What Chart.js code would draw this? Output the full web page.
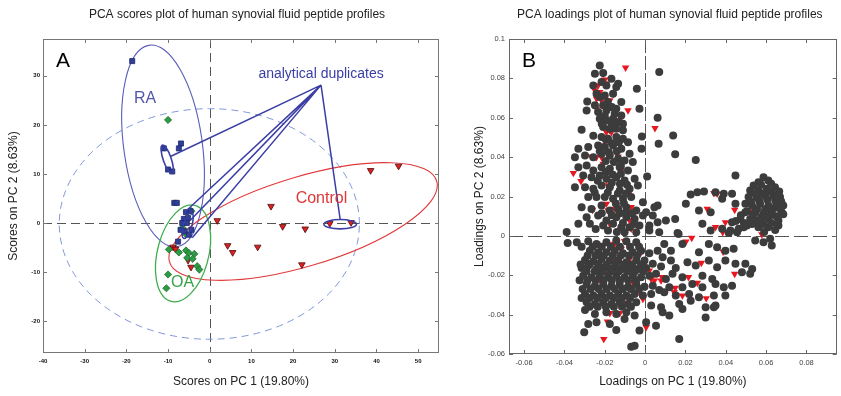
<!DOCTYPE html>
<html><head><meta charset="utf-8">
<script src="https://cdn.jsdelivr.net/npm/chart.js@4.4.1/dist/chart.umd.min.js"></script>
<style>
html,body{margin:0;padding:0;background:#fff;width:841px;height:396px;overflow:hidden}
canvas{position:absolute;top:0}
#a{left:0}
#b{left:441px}
</style></head><body>
<canvas id="a" width="450" height="396"></canvas>
<canvas id="b" width="400" height="396"></canvas>
<script>
// ---------- Panel A : PCA scores ----------
const aXTicks = [-40,-30,-20,-10,0,10,20,30,40,50];
const aYTicks = [-20,-10,0,10,20,30];
const raX = [-18.6,-6.9,-7.4,-11.0,-10.0,-9.0,-8.5,-7.9,-5.7,-4.6,-6.2,-5.2,-6.6,-5.5,-7.0,-6.0,-5.0,-7.6,-4.4];
const raY = [33.0,16.2,15.2,15.2,10.9,10.5,4.1,4.1,2.2,2.4,0.8,1.0,0.0,0.0,-1.4,-1.7,-2.4,-3.8,-1.4];
const oaX = [-10.0,-5.8,-4.4,-5.8,-9.8,-7.4,-5.7,-5.0,-3.7,-5.4,-4.1,-3.0,-2.5,-10.0,-10.4,-6.5];
const oaY = [21.0,0.3,2.4,-2.2,-5.4,-6.0,-5.6,-6.1,-6.3,-7.1,-7.3,-8.8,-9.5,-10.5,-13.3,-1.0];
const ctX = [1.8,14.7,17.5,22.9,28.8,33.9,38.6,45.3,4.3,5.5,11.5,22.1,-8.8,-8.2,-5.2,-4.5];
const ctY = [0.5,3.4,-0.7,-1.2,-0.1,0.1,10.7,11.6,-4.6,-6.0,-4.9,-8.5,-4.9,-5.3,-7.6,-9.0];
// group confidence ellipses: centre, semi-axes (score units), rotation (deg)
const ellRA      = {cx:-11.2, cy:15.7, rx:20.8, ry:9.4, angle:-80.3};
const ellOA      = {cx:-6.4,  cy:-6.2, rx:10.2, ry:6.1, angle:71.6};
const ellControl = {cx:22.4,  cy:0.3,  rx:33.1, ry:9.2, angle:14.0};
const ellAll     = {cx:-0.1,  cy:-0.2, rx:36.0, ry:23.5, angle:0};
const ellDupRA   = {cx:-10.2, cy:13.0, rx:3.1, ry:0.95, angle:-67.5};
const ellDupOA   = {cx:-5.3,  cy:-0.5, rx:2.8, ry:1.0, angle:70};
const ellDupCt   = {cx:31.3,  cy:-0.25,rx:3.9, ry:0.95, angle:0};
// "analytical duplicates" pointer lines: anchor and ends
const dupAnchor = [26.7, 28.1];
const dupEnds = [[-9.3,13.6],[-6.0,2.2],[-4.6,0.6],[-4.2,-3.0],[31.3,0.7]];
const aLabels = [
  {text:'RA', x:-15.5, y:25.3},
  {text:'analytical duplicates', x:26.7, y:30.4},
  {text:'Control', x:26.8, y:4.9},
  {text:'OA', x:-6.5, y:-12.1}
];

// ---------- Panel B : PCA loadings ----------
const bXTicks = [-0.06,-0.04,-0.02,0,0.02,0.04,0.06,0.08];
const bYTicks = [-0.06,-0.04,-0.02,0,0.02,0.04,0.06,0.08,0.1];
const loadOther = [
[-0.0225,0.0866],
[-0.0249,0.0824],[-0.0208,0.0827],[-0.0167,0.0798],[-0.0134,0.0773],
[-0.0257,0.0764],[-0.0216,0.0781],[-0.0192,0.0764],[-0.0143,0.0756],
[-0.0241,0.0722],[-0.02,0.0713],[-0.0159,0.0722],[-0.0118,0.068],
[-0.0287,0.0683],[-0.0249,0.0663],[-0.0208,0.0663],[-0.0175,0.0654],[-0.0143,0.0646],
[-0.029,0.0637],[-0.0233,0.0629],[-0.0192,0.0637],[-0.0151,0.062],[-0.0118,0.0612],
[-0.0225,0.0595],[-0.0192,0.0586],[-0.0159,0.0595],[-0.0134,0.0578],[-0.011,0.057],
[-0.0208,0.0553],[-0.0175,0.0544],[-0.0143,0.0544],[-0.011,0.0536],
[-0.0315,0.0539],
[-0.0257,0.0508],[-0.0216,0.0502],[-0.0184,0.0493],[-0.0143,0.0502],[-0.011,0.0493],[-0.0085,0.0476],
[-0.0331,0.0442],[-0.0282,0.0451],
[-0.0233,0.0459],[-0.02,0.0451],[-0.0159,0.0459],[-0.0118,0.0442],[-0.0077,0.0417],
[-0.0348,0.04],[-0.0298,0.0408],[-0.0257,0.04],[-0.0216,0.0417],[-0.0175,0.0408],[-0.0134,0.0392],[-0.0102,0.0383],[-0.0061,0.0375],
[-0.0331,0.0349],[-0.029,0.0358],[-0.0257,0.0332],[-0.0216,0.0349],[-0.0175,0.0341],[-0.0126,0.0349],[-0.0085,0.0332],
[-0.0307,0.0307],[-0.0266,0.0298],[-0.0225,0.0307],[-0.0192,0.029],[-0.0143,0.0298],[-0.0102,0.0281],[-0.0052,0.029],[0.001,0.0302],
[-0.0348,0.0247],[-0.0298,0.0247],[-0.0257,0.0239],[-0.0216,0.0256],[-0.0175,0.0247],[-0.0126,0.0231],[-0.0077,0.0239],[-0.0036,0.0256],
[-0.0282,0.0197],[-0.0241,0.0197],[-0.02,0.0197],[-0.0159,0.0188],[-0.011,0.0188],[-0.0069,0.0197],
[-0.0315,0.0146],[-0.0266,0.0137],[-0.0216,0.0154],[-0.0175,0.0129],[-0.0134,0.0137],[-0.0093,0.0146],[-0.0044,0.0129],[-0.0011,0.0171],[0.0005,0.012],[0.0046,0.0146],[0.0062,0.0154],
[-0.029,0.0095],[-0.0233,0.0103],[-0.0192,0.0078],[-0.0143,0.0095],[-0.0093,0.0095],[-0.0052,0.0086],[-0.0011,0.0103],[0.0038,0.0103],
[-0.0389,0.002],
[-0.0331,0.0061],[-0.0274,0.0061],[-0.0208,0.0053],[-0.0159,0.0061],[-0.0118,0.0044],[-0.0077,0.0044],[-0.0028,0.0053],[0.0021,0.0053],[0.0062,0.0069],[0.0103,0.0078],
[-0.0184,0.0027],[-0.0102,0.0019],[-0.0044,0.0019],[0.0021,0.0027],[0.007,0.0019],[0.0161,0.0014],
[-0.0225,0.0705],[-0.0185,0.068],[-0.0165,0.0655],[-0.02,0.061],[-0.017,0.058],[-0.0215,0.057],[-0.0155,0.0565],[-0.0195,0.049],[-0.0165,0.047],[-0.013,0.0475],
[-0.0225,0.043],[-0.018,0.0425],[-0.014,0.043],[-0.0195,0.038],[-0.0155,0.0375],[-0.012,0.0355],[-0.0195,0.0325],[-0.016,0.031],[-0.012,0.0315],[-0.0235,0.028],
[-0.0165,0.027],[-0.0125,0.0265],[-0.009,0.026],[-0.0135,0.0215],[-0.0095,0.0215],[-0.0185,0.022],[-0.025,0.022],[-0.0145,0.0165],[-0.0105,0.0165],[-0.0215,0.0115],
[-0.0125,0.0115],[-0.0095,0.012],[-0.0065,0.0115],[-0.0165,0.0105],[-0.011,0.0065],[-0.0055,0.006],[-0.0245,0.0035],[-0.014,0.002],
[-0.0041,0.0747],[0.007,0.0832],[-0.0028,0.0646],[0.0062,0.06],[0.0067,0.0468],[-0.0016,0.0505],[0.0139,0.051],[0.0149,0.0414],[0.0251,0.0386],[-0.0018,0.0442],
[-0.0339,-0.0032],[-0.0282,-0.0027],[-0.0241,-0.0041],[-0.0192,-0.0032],[-0.0143,-0.0024],[-0.0093,-0.0027],[-0.0044,-0.0032],[-0.0384,-0.0036],
[-0.0274,-0.0075],[-0.0233,-0.0083],[-0.0192,-0.0083],[-0.0151,-0.0075],[-0.011,-0.0088],[-0.0061,-0.0083],[-0.002,-0.0075],[0.0021,-0.0088],[0.0062,-0.0075],
[-0.0298,-0.0122],[-0.0257,-0.0129],[-0.0216,-0.0117],[-0.0175,-0.0125],[-0.0134,-0.0125],[-0.0093,-0.0134],[-0.0044,-0.0125],[-0.0003,-0.0125],[0.0038,-0.0142],[0.0087,-0.0108],[0.0128,-0.0125],
[-0.0315,-0.0163],[-0.0282,-0.0151],[-0.0241,-0.0168],[-0.02,-0.0159],[-0.0159,-0.0163],[-0.0118,-0.0168],[-0.0077,-0.0159],[-0.0036,-0.0168],[0.0005,-0.0163],[0.0079,-0.0156],[0.0152,-0.0163],[0.021,-0.0134],[0.0251,-0.0151],
[-0.0307,-0.0202],[-0.0266,-0.021],[-0.0225,-0.0202],[-0.0184,-0.0207],[-0.0143,-0.0202],[-0.0102,-0.021],[-0.0061,-0.0202],[-0.002,-0.021],[0.0021,-0.0202],[0.0054,-0.0193],[0.0103,-0.0219],[0.0136,-0.0193],[0.0185,-0.021],[0.0284,-0.0202],[0.0333,-0.0219],
[-0.029,-0.0244],[-0.0249,-0.0253],[-0.0208,-0.0244],[-0.0167,-0.0253],[-0.0126,-0.0244],[-0.0085,-0.0258],[-0.0044,-0.0244],[-0.0003,-0.0258],[0.0038,-0.0253],[0.007,-0.0275],[0.012,-0.0261],[0.0185,-0.0261],[0.0234,-0.0244],[0.0284,-0.0261],[0.0349,-0.0244],[0.039,-0.0261],[0.0431,-0.0253],
[-0.0298,-0.0295],[-0.0257,-0.0303],[-0.0216,-0.0295],[-0.0175,-0.0303],[-0.0134,-0.0295],[-0.0093,-0.0303],[-0.0052,-0.0295],[-0.0011,-0.0303],[0.003,-0.0295],[0.0095,-0.0286],[0.0152,-0.0303],[0.0218,-0.0295],[0.0267,-0.0312],[0.0341,-0.0303],[0.0398,-0.0303],
[-0.029,-0.0337],[-0.0249,-0.0346],[-0.0208,-0.0337],[-0.0167,-0.0346],[-0.0126,-0.0337],[-0.0085,-0.0346],[-0.0044,-0.0337],[0.003,-0.0354],[0.0079,-0.0363],[0.0169,-0.0346],[0.0226,-0.0329],[0.03,-0.0363],[0.0349,-0.0354],
[-0.0298,-0.0376],[-0.0249,-0.0397],[-0.0192,-0.0388],[-0.0143,-0.0397],[-0.0093,-0.0388],[-0.0052,-0.0405],[0.0087,-0.0388],[0.012,-0.0405],[0.0185,-0.0371],[0.03,-0.0414],[0.0341,-0.0363],
[-0.0282,-0.0447],[-0.0241,-0.0439],[-0.0302,-0.049],[-0.0143,-0.0478],[-0.0028,-0.0481],[0.0005,-0.0439],[0.0054,-0.0456],[0.0169,-0.0524],[-0.0069,-0.0563],[-0.0052,-0.0558],
[-0.0175,-0.0447],[-0.0102,-0.0422],
[-0.0315,-0.0055],[-0.026,-0.0055],[-0.0215,-0.0055],[-0.017,-0.0055],[-0.0125,-0.0055],[-0.0075,-0.0055],[-0.003,-0.0055],
[-0.0285,-0.01],[-0.0245,-0.01],[-0.0205,-0.01],[-0.016,-0.01],[-0.012,-0.01],[-0.008,-0.01],[-0.004,-0.01],
[-0.032,-0.0145],[-0.0275,-0.0145],[-0.023,-0.0145],[-0.019,-0.0145],[-0.0145,-0.0145],[-0.0105,-0.0145],[-0.0065,-0.0145],[-0.002,-0.0145],
[-0.029,-0.018],[-0.025,-0.018],[-0.021,-0.018],[-0.017,-0.018],[-0.013,-0.018],[-0.009,-0.018],[-0.005,-0.018],[-0.001,-0.018],
[-0.0325,-0.0225],[-0.0285,-0.0225],[-0.0245,-0.0225],[-0.0205,-0.0225],[-0.0165,-0.0225],[-0.0125,-0.0225],[-0.0085,-0.0225],[-0.0045,-0.0225],
[-0.031,-0.027],[-0.027,-0.027],[-0.023,-0.027],[-0.019,-0.027],[-0.015,-0.027],[-0.011,-0.027],[-0.007,-0.027],[-0.003,-0.027],
[-0.0315,-0.0315],[-0.0275,-0.0315],[-0.0235,-0.0315],[-0.0195,-0.0315],[-0.0155,-0.0315],[-0.0115,-0.0315],[-0.0075,-0.0315],
[-0.0275,-0.036],[-0.0235,-0.036],[-0.0195,-0.036],[-0.0155,-0.036],[-0.0115,-0.036],[-0.007,-0.036],
[0.0166,0.001],[0.0149,0.0086],[0.0202,0.0163],[0.0226,0.021],[0.0259,0.0222],[0.0292,0.0225],[0.0349,0.0222],[0.039,0.0214],[0.0431,0.0214],[0.0267,0.0129],[0.0325,0.012],
[0.0448,0.0307],[0.0382,0.0188],[0.0448,0.0163],[0.0497,0.0163],
[0.0284,0.0061],[0.0325,0.0027],[0.0382,0.0036],[0.0423,0.0027],[0.0464,0.0036],[0.0505,0.0053],[0.0546,0.0069],[0.0579,0.0095],
[0.0185,-0.0041],[0.0267,-0.0083],[0.0316,-0.0041],[0.0357,-0.0058],[0.0398,-0.0075],[0.0439,-0.0066],[0.0546,-0.0024],[0.0587,-0.0032],[0.062,-0.0015],[0.0628,-0.0049],
[0.0095,-0.0041],[0.0128,-0.0075],
[0.0316,-0.0125],[0.0357,-0.0159],[0.0398,-0.0125],[0.0448,-0.0142],[0.0497,-0.0142],[0.0531,-0.0168],[0.0521,-0.0193],[0.048,-0.0185],
[0.0587,0.0298],[0.0562,0.0273],[0.0611,0.0281],[0.0538,0.0256],
[0.0521,0.0231],[0.0562,0.0231],[0.0603,0.0239],[0.0644,0.0247],
[0.0513,0.0197],[0.0554,0.0197],[0.0595,0.0205],[0.0636,0.0205],[0.0669,0.0197],
[0.053,0.0154],[0.057,0.0163],[0.0611,0.0154],[0.0652,0.0163],[0.0685,0.0154],
[0.0497,0.012],[0.0546,0.012],[0.0587,0.0112],[0.0628,0.012],[0.0677,0.012],
[0.0472,0.0086],[0.0521,0.0086],[0.0562,0.0078],[0.0611,0.0086],[0.0661,0.0078],
[0.0431,0.0069],[0.0562,0.0044],[0.0611,0.0044],[0.0661,0.0053],
[0.0489,0.0044],[0.0415,0.0014],[0.0456,0.0019],
[0.0575,0.026],[0.0625,0.0265],[0.0545,0.0215],[0.0585,0.0215],[0.0625,0.0225],[0.0665,0.0225],[0.0525,0.0175],[0.0565,0.018],[0.0605,0.0185],[0.0645,0.018],
[0.0675,0.0175],[0.0555,0.0135],[0.0595,0.0135],[0.0635,0.014],[0.0665,0.014],[0.0535,0.0105],[0.0575,0.0095],[0.0615,0.01],[0.065,0.01],[0.0685,0.011],
[0.0585,0.006],[0.0625,0.0065],[0.0655,0.006],[0.059,0.002],[0.0645,0.003],[0.0505,0.0125],[0.0475,0.0105],[0.045,0.0075],[0.049,0.0065],[0.053,0.006]
];
const loadRed = [
[-0.0097,0.0854],[-0.0208,0.0824],[-0.02,0.0793],[-0.0192,0.0773],[-0.0233,0.0764],[-0.0249,0.0739],[-0.0225,0.073],[-0.0241,0.0697],[-0.0216,0.0688],[-0.0175,0.0688],
[-0.0159,0.0722],[-0.0241,0.0646],[-0.0233,0.0629],[-0.0085,0.0637],[-0.0151,0.0578],[-0.0118,0.0603],[-0.011,0.0553],[-0.0192,0.0527],[-0.0175,0.0536],[-0.0167,0.0527],
[0.0049,0.0547],[-0.02,0.0459],[-0.0216,0.04],[-0.0241,0.04],[-0.0208,0.0366],[-0.0266,0.0403],[-0.0134,0.0403],[-0.0126,0.0375],[-0.0118,0.0332],[-0.0356,0.0319],
[-0.0318,0.0278],[-0.0192,0.0286],[-0.0184,0.0256],[-0.0077,0.0222],[-0.0261,0.0132],[-0.0192,0.0163],[-0.0184,0.0129],[-0.0148,0.0137],[-0.0069,0.0146],[-0.0175,0.0061],
[-0.0077,0.0078],[-0.0069,0.0036],[-0.0238,-0.0041],[-0.0175,-0.0044],[-0.0151,-0.0041],[-0.0102,-0.0027],[-0.0159,-0.0075],[-0.0118,-0.0066],[-0.0028,-0.0075],[-0.002,-0.0083],
[-0.0244,-0.0142],[-0.0225,-0.0134],[-0.0151,-0.0125],[-0.0077,-0.0117],[-0.0028,-0.0163],[0.0021,-0.0176],[-0.0056,-0.0193],[-0.0225,-0.0219],[-0.0184,-0.0193],[-0.011,-0.0219],
[-0.0061,-0.0236],[0.003,-0.0219],[0.0046,-0.0227],[0.0084,-0.021],[0.0079,-0.0227],[-0.0261,-0.027],[-0.0118,-0.027],[-0.0028,-0.0278],[-0.002,-0.0303],[-0.0011,-0.032],
[-0.0118,-0.0337],[-0.0102,-0.0342],[0.0149,-0.0264],[0.0144,-0.0286],[0.0185,-0.0303],[0.0215,-0.021],[0.0259,-0.0239],[0.0279,-0.0137],[0.0303,-0.0317],[0.0308,0.0137],
[0.0341,0.0217],[0.0357,0.0214],[0.0202,-0.0029],[0.0231,-0.001],[0.0349,0.0044],[0.0385,0.0019],[0.0398,0.0069],[0.0387,-0.008],[0.0444,0.0132],[0.0444,-0.0193],
[0.0529,0.0124],[0.0579,0.0007],[0.0611,0.0222],[0.0647,0.0214],[0.0616,0.0188],[0.0611,0.0146],[0.066,0.0149],[0.0644,0.0205],[-0.0175,-0.0393],[-0.0126,-0.0393],
[-0.0187,-0.0436],[-0.0205,-0.0524],[0.0005,-0.0464],[-0.0274,-0.0134]
];

// ---------- helpers ----------
const FONT = "'Liberation Sans', Arial, Helvetica, sans-serif";
const zip = (xs, ys) => xs.map((x, i) => ({x, y: ys[i]}));
const pairs = arr => arr.map(p => ({x: p[0], y: p[1]}));

function drawFrame(chart, tickLen, color) {
  const {ctx, chartArea: ca, scales: {x, y}} = chart;
  ctx.save();
  ctx.strokeStyle = color; ctx.lineWidth = 1; ctx.setLineDash([]);
  ctx.strokeRect(Math.round(ca.left) + 0.5, Math.round(ca.top) + 0.5,
                 Math.round(ca.right - ca.left) - 1, Math.round(ca.bottom - ca.top) - 1);
  ctx.beginPath();
  x.ticks.forEach(t => {
    const p = Math.round(x.getPixelForValue(t.value)) + 0.5;
    ctx.moveTo(p, ca.bottom); ctx.lineTo(p, ca.bottom - tickLen);
    ctx.moveTo(p, ca.top); ctx.lineTo(p, ca.top + tickLen);
  });
  y.ticks.forEach(t => {
    const p = Math.round(y.getPixelForValue(t.value)) + 0.5;
    ctx.moveTo(ca.left, p); ctx.lineTo(ca.left + tickLen, p);
    ctx.moveTo(ca.right, p); ctx.lineTo(ca.right - tickLen, p);
  });
  ctx.stroke();
  ctx.restore();
}
function drawZero(chart, dashH, dashV, color) {
  const {ctx, chartArea: ca, scales: {x, y}} = chart;
  const px = Math.round(x.getPixelForValue(0)) + 0.5, py = Math.round(y.getPixelForValue(0)) + 0.5;
  ctx.save();
  ctx.strokeStyle = color; ctx.lineWidth = 1;
  ctx.setLineDash(dashH); ctx.beginPath(); ctx.moveTo(ca.left, py); ctx.lineTo(ca.right, py); ctx.stroke();
  ctx.setLineDash(dashV); ctx.beginPath(); ctx.moveTo(px, ca.top); ctx.lineTo(px, ca.bottom); ctx.stroke();
  ctx.restore();
}
function drawEllipse(chart, e, color, width, dash) {
  const {ctx, chartArea: ca, scales: {x, y}} = chart;
  const kx = x.getPixelForValue(1) - x.getPixelForValue(0);
  const ky = y.getPixelForValue(0) - y.getPixelForValue(1);
  ctx.save();
  ctx.beginPath(); ctx.rect(ca.left, ca.top, ca.right - ca.left, ca.bottom - ca.top); ctx.clip();
  ctx.save();
  ctx.beginPath();
  ctx.translate(x.getPixelForValue(e.cx), y.getPixelForValue(e.cy));
  ctx.scale(kx, -ky);
  ctx.ellipse(0, 0, e.rx, e.ry, e.angle * Math.PI / 180, 0, Math.PI * 2);
  ctx.restore();
  ctx.strokeStyle = color; ctx.lineWidth = width; ctx.setLineDash(dash || []);
  ctx.stroke();
  ctx.restore();
}
function drawTitle(chart, text, dx) {
  const {ctx, chartArea: ca} = chart;
  ctx.save();
  ctx.font = '12px ' + FONT; ctx.fillStyle = '#222';
  ctx.textAlign = 'center'; ctx.textBaseline = 'middle';
  ctx.fillText(text, (ca.left + ca.right) / 2 + dx, 15);
  ctx.restore();
}
function drawLetter(chart, text) {
  const {ctx, chartArea: ca} = chart;
  ctx.save();
  ctx.font = '21px ' + FONT; ctx.fillStyle = '#000';
  ctx.textAlign = 'center'; ctx.textBaseline = 'middle';
  ctx.fillText(text, ca.left + 20, ca.top + 22);
  ctx.restore();
}

const plugA = {
  id: 'panelA',
  beforeDatasetsDraw(chart) {
    drawZero(chart, [9, 5], [9, 5], '#555');
    drawEllipse(chart, ellAll, '#7f97da', 1, [7, 5]);
    drawEllipse(chart, ellRA, '#5a5db8', 1.1);
    drawEllipse(chart, ellControl, '#e03a3c', 1.1);
    drawEllipse(chart, ellOA, '#3fae4c', 1.3);
  },
  afterDatasetsDraw(chart) {
    const {ctx, scales: {x, y}} = chart;
    drawEllipse(chart, ellDupRA, '#3b3fa5', 1.6);
    drawEllipse(chart, ellDupOA, '#3b3fa5', 1.6);
    drawEllipse(chart, ellDupCt, '#3b3fa5', 1.6);
    ctx.save();
    ctx.strokeStyle = '#3b3fa5'; ctx.lineWidth = 1.5;
    ctx.beginPath();
    const ax = x.getPixelForValue(dupAnchor[0]), ay = y.getPixelForValue(dupAnchor[1]);
    dupEnds.forEach(p => { ctx.moveTo(ax, ay); ctx.lineTo(x.getPixelForValue(p[0]), y.getPixelForValue(p[1])); });
    ctx.stroke();
    ctx.restore();
    const styles = [
      {font: '16px', color: '#5356a8'},
      {font: '14px', color: '#3a3ea6'},
      {font: '16px', color: '#e03535'},
      {font: '16px', color: '#34a344'}
    ];
    aLabels.forEach((l, i) => {
      ctx.save();
      ctx.font = styles[i].font + ' ' + FONT; ctx.fillStyle = styles[i].color;
      ctx.textAlign = 'center'; ctx.textBaseline = 'middle';
      ctx.fillText(l.text, x.getPixelForValue(l.x), y.getPixelForValue(l.y));
      ctx.restore();
    });
  },
  afterDraw(chart) {
    drawFrame(chart, 4, '#777');
    drawLetter(chart, 'A');
    drawTitle(chart, 'PCA scores plot of human synovial fluid peptide profiles', -4);
  }
};
const plugB = {
  id: 'panelB',
  beforeDatasetsDraw(chart) { drawZero(chart, [14, 5], [14, 3], '#555'); },
  afterDraw(chart) {
    drawFrame(chart, 4, '#666');
    drawLetter(chart, 'B');
    drawTitle(chart, 'PCA loadings plot of human synovial fluid peptide profiles', -3);
  }
};

const baseOpts = () => ({
  responsive: false, animation: false, devicePixelRatio: 1,
  plugins: {legend: {display: false}, tooltip: {enabled: false}},
  events: []
});

// ---------- Chart A ----------
const optA = baseOpts();
optA.layout = {padding: {top: 39, right: 11, left: 0, bottom: 0}};
optA.scales = {
  x: {type: 'linear', min: -40, max: 55,
      afterBuildTicks: s => { s.ticks = aXTicks.map(v => ({value: v})); },
      afterFit: s => { s.height = 43; },
      grid: {display: false, drawTicks: false}, border: {display: false},
      ticks: {font: {family: FONT, size: 6, weight: 'bold'}, color: '#111', padding: 5, maxRotation: 0, autoSkip: false},
      title: {display: true, text: 'Scores on PC 1 (19.80%)', font: {family: FONT, size: 12}, color: '#222', padding: {top: 0, bottom: 7}}},
  y: {type: 'linear', min: -26.5, max: 37.5,
      afterBuildTicks: s => { s.ticks = aYTicks.map(v => ({value: v})); },
      afterFit: s => { s.width = 43; },
      grid: {display: false, drawTicks: false}, border: {display: false},
      ticks: {font: {family: FONT, size: 6, weight: 'bold'}, color: '#111', padding: 3, autoSkip: false},
      title: {display: true, text: 'Scores on PC 2 (8.63%)', font: {family: FONT, size: 12}, color: '#222', padding: {top: 6, bottom: 0}}}
};
new Chart(document.getElementById('a'), {
  type: 'scatter',
  data: {datasets: [
    {label: 'RA', data: zip(raX, raY), pointStyle: 'rect', pointRadius: 3.6, backgroundColor: '#2f3f96', borderColor: '#1d2a6e', borderWidth: 0.8},
    {label: 'OA', data: zip(oaX, oaY), pointStyle: 'rectRot', pointRadius: 3.6, backgroundColor: '#2e9a44', borderColor: '#1f6e2e', borderWidth: 0.8},
    {label: 'Control', data: zip(ctX, ctY), pointStyle: 'triangle', pointRotation: 180, pointRadius: 3.8, backgroundColor: '#e02020', borderColor: '#4a0a0a', borderWidth: 0.8}
  ]},
  options: optA,
  plugins: [plugA]
});

// ---------- Chart B ----------
const optB = baseOpts();
optB.layout = {padding: {top: 39, right: 3, left: 27, bottom: 0}};
const fmt = v => String(Math.round(v * 100) / 100);
optB.scales = {
  x: {type: 'linear', min: -0.0675, max: 0.095,
      afterBuildTicks: s => { s.ticks = bXTicks.map(v => ({value: v})); },
      afterFit: s => { s.height = 42; },
      grid: {display: false, drawTicks: false}, border: {display: false},
      ticks: {font: {family: FONT, size: 7.5}, color: '#444', padding: 4, maxRotation: 0, autoSkip: false, callback: fmt},
      title: {display: true, text: 'Loadings on PC 1 (19.80%)', font: {family: FONT, size: 12}, color: '#222', padding: {top: 0, bottom: 7}}},
  y: {type: 'linear', min: -0.06, max: 0.1,
      afterBuildTicks: s => { s.ticks = bYTicks.map(v => ({value: v})); },
      afterFit: s => { s.width = 41; },
      grid: {display: false, drawTicks: false}, border: {display: false},
      ticks: {font: {family: FONT, size: 7.5}, color: '#444', padding: 4, autoSkip: false, callback: fmt},
      title: {display: true, text: 'Loadings on PC 2 (8.63%)', font: {family: FONT, size: 12}, color: '#222', padding: {top: 4, bottom: 0}}}
};
new Chart(document.getElementById('b'), {
  type: 'scatter',
  data: {datasets: [
    {label: 'peptides', data: pairs(loadOther), pointStyle: 'circle', pointRadius: 4.0, backgroundColor: '#3c3c3c', borderColor: '#3c3c3c', borderWidth: 0},
    {label: 'discriminating peptides', data: pairs(loadRed), pointStyle: 'triangle', pointRotation: 180, pointRadius: 4.3, backgroundColor: '#e8161e', borderColor: '#e8161e', borderWidth: 0}
  ]},
  options: optB,
  plugins: [plugB]
});
</script>
</body></html>
